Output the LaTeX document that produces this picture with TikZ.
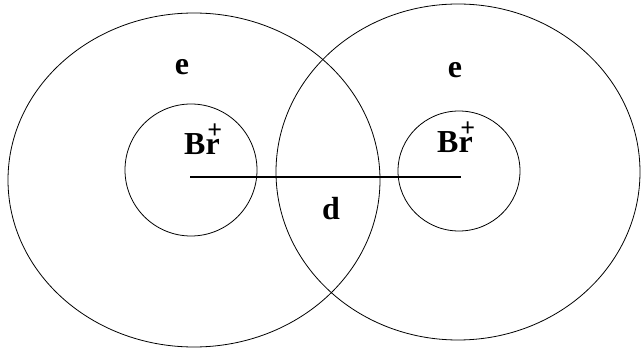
\documentclass[tikz,border=0pt]{standalone}
\usepackage{fontspec}
\setmainfont{Liberation Serif}
\usetikzlibrary{positioning,calc}
\newcommand{\ionplus}{\rlap{\kern-12.4pt\raisebox{16.5pt}{\fontsize{26}{26}\selectfont +}}}

\begin{document}
\begin{tikzpicture}[x=1pt, y=-1pt, font=\bfseries\fontsize{32}{36}\selectfont,
    shell/.style={draw, line width=0.8pt},
    label/.style={inner sep=0pt, anchor=base}]
  \useasboundingbox (0,0) rectangle (641,358);
  % atom centres
  \coordinate (nucL) at (190,177);
  \coordinate (nucR) at (461,177);

  % outer shells
  \draw[shell] (194,180) ellipse [x radius=186, y radius=167];
  \draw[shell] (458,172) ellipse [x radius=182, y radius=168];
  % inner cores
  \draw[shell] (191,170) ellipse [x radius=66, y radius=66];
  \draw[shell] (459,171) ellipse [x radius=61, y radius=60];

  \draw[line width=1.3pt] (nucL) -- (nucR);

  \node[label] (eL) at (182,75) {e};
  \node[label] (eR) at (455,78) {e};
  \node[label] (brL) at (202,155) {Br\ionplus};
  \node[label] (brR) at (455,153) {Br\ionplus};
  \node[label] (dist) at (331,220) {d};
\end{tikzpicture}
\end{document}
